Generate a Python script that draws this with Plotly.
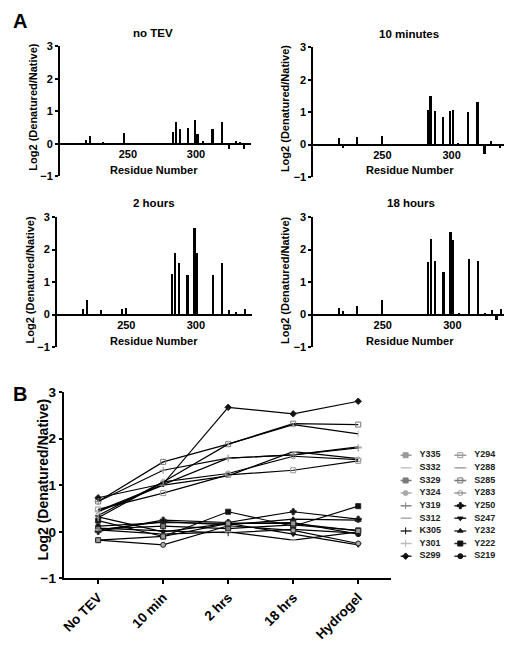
import plotly.graph_objects as go

# ---------------- data ----------------
residues = [219, 222, 232, 247, 250, 283, 285, 288, 294, 299, 301, 305, 312, 319, 324, 329, 332, 335]
site_labels = ["S219", "Y222", "Y232", "S247", "Y250", "Y283", "S285", "Y288", "Y294",
               "S299", "Y301", "K305", "S312", "Y319", "Y324", "S329", "S332", "Y335"]

no_tev   = [0.12, 0.24, 0.04, 0.32, 0.01, 0.35, 0.65, 0.45, 0.48, 0.73, 0.30, 0.08, 0.43, 0.65, -0.18, 0.06, 0.04, -0.18]
min10    = [0.20, -0.10, 0.22, 0.00, 0.25, 1.07, 1.50, 1.02, 0.83, 1.03, 1.07, 0.02, 1.00, 1.32, -0.28, 0.12, -0.05, -0.10]
hr2      = [0.18, 0.43, 0.15, 0.18, 0.20, 1.25, 1.88, 1.58, 1.22, 2.67, 1.88, -0.02, 1.20, 1.58, 0.13, 0.07, 0.00, 0.18]
hr18     = [0.20, 0.12, 0.27, -0.05, 0.43, 1.62, 2.32, 1.65, 1.32, 2.53, 2.30, 0.05, 1.72, 1.65, 0.03, 0.15, -0.18, 0.18]
hydrogel = [-0.05, 0.55, 0.25, -0.28, 0.27, 1.55, 2.30, 1.82, 1.52, 2.80, 2.10, -0.03, 1.57, 1.80, -0.25, 0.03, 0.00, 0.02]

panel_titles = ["no TEV", "10 minutes", "2 hours", "18 hours"]
conditions = ["No TEV", "10 min", "2 hrs", "18 hrs", "Hydrogel"]
y_ticks = [-1, 0, 1, 2, 3]
x_ticks_a = [250, 300]
y_title = "Log2 (Denatured/Native)"
x_title_a = "Residue Number"

# marker styles per site (symbol, colour)
styles = {
    "Y335": ("square", "#9a9a9a"), "S332": ("line-ew-open", "#c8c8c8"),
    "S329": ("square", "#7a7a7a"), "Y324": ("circle", "#aaaaaa"),
    "Y319": ("cross-thin-open", "#888888"), "S312": ("line-ew-open", "#b0b0b0"),
    "K305": ("line-ns-open", "#111111"), "Y301": ("line-ns-open", "#bbbbbb"),
    "S299": ("diamond", "#111111"), "Y294": ("square-open", "#999999"),
    "Y288": ("line-ew-open", "#aaaaaa"), "S285": ("square-open", "#777777"),
    "Y283": ("circle-open", "#999999"), "Y250": ("cross", "#111111"),
    "S247": ("triangle-down", "#111111"), "Y232": ("triangle-up", "#111111"),
    "Y222": ("square", "#111111"), "S219": ("circle", "#111111"),
}

# page has an 8px body margin -> figure occupies page pixels 8..512, 8..646
OFF = 8
W, H = 512 - OFF, 646 - OFF
FONT = "Liberation Sans, Arial, sans-serif"

def fx(p):
    return (p - OFF) / W

def fy(p):
    return 1 - (p - OFF) / H

def bold(size):
    return dict(family=FONT, size=size, color="black", weight="bold")

fig = go.Figure()
annotations = []

# ---------------- panel A ----------------
# (values, x-extent, y-extent, title pos, x-title pos, y-title pos) in page pixels
panels = [
    (no_tev, (57, 249), (40, 173), (151, 26), (152, 167), (30, 102)),
    (min10, (312, 507), (41, 174), (408, 27), (409, 167), (283, 104)),
    (hr2, (54, 250), (215, 348), (152, 201), (152, 342), (27, 279)),
    (hr18, (312, 508), (215, 348), (410, 201), (409, 342), (283, 280)),
]
yr = [-1, 3]
for i, (vals, (x0, x1), (ytop, ybot), tpos, xtpos, ytpos) in enumerate(panels):
    n = i + 1
    xa = "x" if n == 1 else f"x{n}"
    ya = "y" if n == 1 else f"y{n}"
    fig.add_trace(go.Bar(x=residues, y=vals, width=1.2, marker=dict(color="black", line=dict(width=0)),
                         xaxis=xa, yaxis=ya, showlegend=False))
    ydom = [fy(ybot), fy(ytop)]
    zero_pos = ydom[0] + (0 - yr[0]) / (yr[1] - yr[0]) * (ydom[1] - ydom[0])
    key_x = "xaxis" if n == 1 else f"xaxis{n}"
    key_y = "yaxis" if n == 1 else f"yaxis{n}"
    fig.layout[key_x] = dict(domain=[fx(x0), fx(x1)], range=[200, 340], tickvals=x_ticks_a,
                             anchor="free", position=zero_pos, showline=True, linecolor="black",
                             linewidth=2, ticks="", showgrid=False, zeroline=False, tickfont=bold(11))
    fig.layout[key_y] = dict(domain=ydom, range=yr, tickvals=y_ticks, anchor=xa,
                             showline=True, linecolor="black", linewidth=1.5, ticks="outside",
                             ticklen=3, tickwidth=1.5, tickcolor="black", showgrid=False, zeroline=False,
                             tickfont=bold(11))
    annotations.append(dict(text=panel_titles[i], x=fx(tpos[0]), y=fy(tpos[1]), xref="paper", yref="paper",
                            showarrow=False, xanchor="center", yanchor="middle", font=bold(11.5)))
    annotations.append(dict(text=x_title_a, x=fx(xtpos[0]), y=fy(xtpos[1]), xref="paper", yref="paper",
                            showarrow=False, xanchor="center", yanchor="middle", font=bold(11)))
    annotations.append(dict(text=y_title, x=fx(ytpos[0]), y=fy(ytpos[1]), xref="paper", yref="paper",
                            showarrow=False, xanchor="center", yanchor="middle", textangle=-90,
                            font=bold(11)))

# ---------------- panel B ----------------
series_vals = list(zip(no_tev, min10, hr2, hr18, hydrogel))
for lab, vals in zip(site_labels, series_vals):
    sym, col = styles[lab]
    fig.add_trace(go.Scatter(x=conditions, y=list(vals), mode="lines+markers", xaxis="x5", yaxis="y5",
                             line=dict(color="black", width=1.2),
                             marker=dict(symbol=sym, size=5, color=col,
                                         line=dict(color=col if "open" in sym else "#222222", width=1)),
                             showlegend=False, name=lab))

fig.layout["xaxis5"] = dict(domain=[fx(61), fx(390)], range=[-0.53, 4.5], anchor="y5", type="category",
                            showline=True, linecolor="black", linewidth=2, ticks="outside", ticklen=4,
                            tickwidth=1.5, tickcolor="black", showgrid=False, zeroline=False, tickangle=-45,
                            tickfont=bold(13.5))
fig.layout["yaxis5"] = dict(domain=[fy(585), fy(394)], range=yr, tickvals=y_ticks, anchor="x5",
                            showline=True, linecolor="black", linewidth=2, ticks="outside", ticklen=3,
                            tickwidth=1.5, tickcolor="black", showgrid=False, zeroline=False,
                            tickfont=bold(13.5))
annotations.append(dict(text=y_title, x=fx(40), y=fy(484), xref="paper", yref="paper", showarrow=False,
                        xanchor="center", yanchor="middle", textangle=-90, font=bold(14)))

# ---------------- key (two columns) on a hidden axis ----------------
legend_order = site_labels[::-1]
for idx, lab in enumerate(legend_order):
    col_i, row_i = idx // 9, idx % 9
    sym, col = styles[lab]
    cx = col_i * 55 + 5
    fig.add_trace(go.Scatter(x=[cx - 6, cx + 6], y=[row_i, row_i], mode="lines", xaxis="x6", yaxis="y6",
                             line=dict(color="#333333" if col == "#111111" else col, width=1.5),
                             showlegend=False, hoverinfo="skip"))
    fig.add_trace(go.Scatter(x=[cx], y=[row_i], mode="markers", xaxis="x6", yaxis="y6",
                             marker=dict(symbol=sym, size=5, color=col, line=dict(color=col, width=1)),
                             showlegend=False, hoverinfo="skip"))
    fig.add_trace(go.Scatter(x=[cx + 14], y=[row_i], mode="text", text=[lab], textposition="middle right",
                             xaxis="x6", yaxis="y6",
                             textfont=dict(family=FONT, size=9, color="#222222", weight="bold"),
                             showlegend=False, hoverinfo="skip"))

fig.layout["xaxis6"] = dict(domain=[fx(400), fx(510)], range=[0, 110], anchor="y6", visible=False)
fig.layout["yaxis6"] = dict(domain=[fy(568), fy(453)], range=[8.45, -0.45], anchor="x6", visible=False)

# panel letters
annotations.append(dict(text="A", x=0, y=fy(14), xref="paper", yref="paper", showarrow=False,
                        xanchor="left", yanchor="middle", font=bold(20)))
annotations.append(dict(text="B", x=0, y=fy(396), xref="paper", yref="paper", showarrow=False,
                        xanchor="left", yanchor="middle", font=bold(20)))

fig.update_layout(width=W, height=H, margin=dict(l=0, r=0, t=0, b=0),
                  paper_bgcolor="white", plot_bgcolor="white", annotations=annotations,
                  bargap=0, font=dict(family=FONT, color="black"))

fig.write_html("out.html")
